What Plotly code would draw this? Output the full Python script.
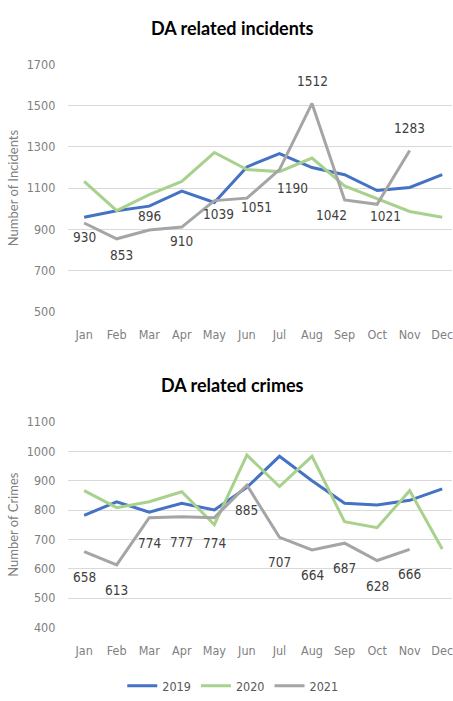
import plotly.graph_objects as go

months = ["Jan", "Feb", "Mar", "Apr", "May", "Jun", "Jul", "Aug", "Sep", "Oct", "Nov", "Dec"]

inc_2019 = [958, 990, 1012, 1085, 1030, 1203, 1268, 1200, 1165, 1088, 1103, 1165]
inc_2020 = [1133, 990, 1068, 1132, 1273, 1190, 1180, 1246, 1110, 1048, 986, 958]
inc_2021 = [930, 853, 896, 910, 1039, 1051, 1190, 1512, 1042, 1021, 1283]
inc_2021_above = [False, False, True, False, False, False, False, True, False, False, True]

cr_2019 = [782, 828, 793, 823, 800, 877, 983, 900, 823, 817, 833, 872]
cr_2020 = [866, 808, 828, 862, 750, 987, 880, 983, 760, 740, 866, 667]
cr_2021 = [658, 613, 774, 777, 774, 885, 707, 664, 687, 628, 666]

years = ["2019", "2020", "2021"]
colors = {"2019": "#4472C4", "2020": "#A9D18E", "2021": "#A5A5A5"}

W, H = 453, 701
FONT = "DejaVu Sans Condensed, Liberation Sans Narrow, Roboto, sans-serif"
TITLE_FONT = "Lato, Open Sans, sans-serif"

# label nudges (pixels) as placed in the original
inc_lab_dx = [0, 5, 0, 0, 4, 10, 13, 0, -13, 8, 0]
inc_lab_dy = [-14, -16, 14, -14, -13, -9, -18, 22, -15, -12, 22]

fig = go.Figure()

def add(x, y, name, xa, ya, show):
    fig.add_trace(go.Scatter(
        x=x, y=y, name=name, xaxis=xa, yaxis=ya, showlegend=show, legendgroup=name,
        mode="lines", line=dict(color=colors[name], width=3), hoverinfo="skip",
    ))

add(months, inc_2019, "2019", "x", "y", True)
add(months, inc_2020, "2020", "x", "y", True)
add(months[:len(inc_2021)], inc_2021, "2021", "x", "y", True)
add(months, cr_2019, "2019", "x2", "y2", False)
add(months, cr_2020, "2020", "x2", "y2", False)
add(months[:len(cr_2021)], cr_2021, "2021", "x2", "y2", False)

labfont = dict(family=FONT, size=13.5, color="#404040")
for m, v, dx, dy in zip(months, inc_2021, inc_lab_dx, inc_lab_dy):
    fig.add_annotation(x=m, y=v, xref="x", yref="y", text=str(v), showarrow=False,
                       xshift=dx, yshift=dy, font=labfont)
for m, v in zip(months, cr_2021):
    fig.add_annotation(x=m, y=v, xref="x2", yref="y2", text=str(v), showarrow=False,
                       yshift=-25, font=labfont)

def py(px):
    return 1 - px / H

xcommon = dict(type="category", categoryorder="array", categoryarray=months,
               range=[-0.5, 11.3], showgrid=False, zeroline=False, showline=False,
               ticks="outside", ticklen=12, tickcolor="rgba(0,0,0,0)",
               tickfont=dict(family=FONT, size=12.5, color="#808080"),
               domain=[68 / W, 1.0])
ycommon = dict(showgrid=True, gridcolor="#D9D9D9", gridwidth=1, zeroline=False,
               showline=False, ticks="outside", ticklen=9, tickcolor="rgba(0,0,0,0)",
               tickfont=dict(family=FONT, size=12.5, color="#808080"))

fig.update_layout(
    width=W, height=H,
    margin=dict(l=0, r=0, t=0, b=0),
    paper_bgcolor="white", plot_bgcolor="white",
    xaxis=dict(**xcommon, anchor="y"),
    yaxis=dict(**ycommon, anchor="x", range=[500, 1700], tick0=500, dtick=200,
               domain=[py(310), py(58)],
               title=dict(text="Number of Incidents", standoff=5,
                          font=dict(family=TITLE_FONT, size=13, color="#808080"))),
    xaxis2=dict(**xcommon, anchor="y2"),
    yaxis2=dict(**ycommon, anchor="x2", range=[400, 1100], tick0=400, dtick=100,
                domain=[py(633), py(423)],
                title=dict(text="Number of Crimes", standoff=5,
                           font=dict(family=TITLE_FONT, size=13, color="#808080"))),
    legend=dict(orientation="h", x=0.515, xanchor="center", y=py(693), yanchor="middle",
                font=dict(family=FONT, size=12.5, color="#595959"),
                itemwidth=30, tracegroupgap=0),
)
fig.add_annotation(text="<b>DA related incidents</b>", x=233 / W, y=py(20), xref="paper", yref="paper",
                   xanchor="center", yanchor="middle", showarrow=False,
                   font=dict(family=TITLE_FONT, size=18, color="#000000"))
fig.add_annotation(text="<b>DA related crimes</b>", x=233 / W, y=py(385), xref="paper", yref="paper",
                   xanchor="center", yanchor="middle", showarrow=False,
                   font=dict(family=TITLE_FONT, size=18, color="#000000"))

fig.write_html("out.html", config={"displayModeBar": False},
               post_script="document.body.style.margin='0';")
